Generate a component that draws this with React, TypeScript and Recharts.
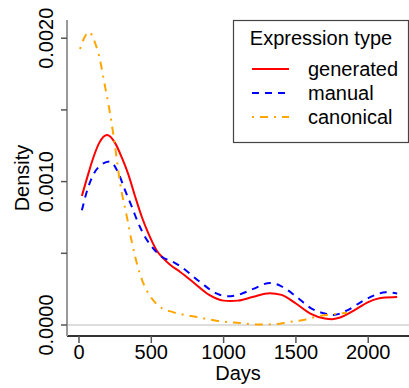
import React from 'react';
import { LineChart, Line, XAxis, YAxis, ReferenceLine } from 'recharts';

// values (days vs density)
const generatedDays = [20, 60, 100, 140, 194, 249, 295, 341, 387, 434, 479, 537, 583, 630, 700, 800, 900, 1000, 1044, 1100, 1200, 1320, 1400, 1500, 1600, 1700, 1750, 1800, 1900, 2000, 2100, 2200];
const generatedDensity = [0.0009, 0.00104, 0.00117, 0.00127, 0.001325, 0.00127, 0.00117, 0.00105, 0.0009, 0.000755, 0.00064, 0.00052, 0.000465, 0.00042, 0.00037, 0.00029, 0.00021, 0.00017, 0.000167, 0.00017, 0.000195, 0.000222, 0.00021, 0.00015, 0.00008, 0.000045, 0.00004, 0.00005, 0.0001, 0.00016, 0.00019, 0.000195];

const manualDays = [20, 60, 100, 134, 214, 272, 318, 365, 410, 456, 503, 572, 650, 700, 837, 950, 1023, 1100, 1200, 1321, 1400, 1500, 1600, 1700, 1757, 1850, 1950, 2050, 2120, 2200];
const manualDensity = [0.0008, 0.00095, 0.00105, 0.0011, 0.00114, 0.00106, 0.00094, 0.000825, 0.00071, 0.000616, 0.000546, 0.000476, 0.00044, 0.00041, 0.0003, 0.00022, 0.0002, 0.00021, 0.00025, 0.000293, 0.00027, 0.0002, 0.00012, 0.00008, 0.00007, 0.0001, 0.00016, 0.00021, 0.000228, 0.00022];

const canonicalDays = [7, 40, 69, 110, 145, 173, 214, 250, 284, 330, 367, 400, 436, 500, 560, 650, 816, 950, 1113, 1250, 1342, 1450, 1549, 1650, 1715, 1780, 1853];
const canonicalDensity = [0.001925, 0.00201, 0.002043, 0.00197, 0.00185, 0.0017, 0.00148, 0.00124, 0.00099, 0.00076, 0.00057, 0.00043, 0.000314, 0.00019, 0.000126, 0.00009, 0.000056, 0.00003, 0.000014, 0.000003, 0.000005, 0.00002, 0.000035, 0.00006, 0.00007, 0.000078, 0.000084];

const xTicks = [0, 500, 1000, 1500, 2000];
const yTicks = [0, 0.0005, 0.001, 0.0015, 0.002];
const yLabelled = [0, 0.001, 0.002];

const zip = (xs: number[], ys: number[]) => xs.map((x, i) => ({ x, y: ys[i] }));

const series = [
  { name: 'generated', data: zip(generatedDays, generatedDensity), color: '#ff0000', dash: undefined },
  { name: 'manual', data: zip(manualDays, manualDensity), color: '#0000ff', dash: '7 6' },
  { name: 'canonical', data: zip(canonicalDays, canonicalDensity), color: '#ffa500', dash: '2 6 8 6' },
];

const FONT = '"Liberation Sans", Arial, sans-serif';
const X_DOMAIN: [number, number] = [-83, 2282];
const Y_DOMAIN: [number, number] = [-0.0000767, 0.002127];

const XTick = (props: any) => (
  <text x={props.x} y={props.y + 16} textAnchor="middle" fontSize={20} fontFamily={FONT} fill="#000">
    {props.payload.value}
  </text>
);

const YTick = (props: any) => {
  const v = props.payload.value;
  if (!yLabelled.some((t) => Math.abs(t - v) < 1e-9)) return <g />;
  const x = props.x - 8;
  return (
    <text x={x} y={props.y} transform={`rotate(-90, ${x}, ${props.y})`} textAnchor="middle" fontSize={20} fontFamily={FONT} fill="#000">
      {v.toFixed(4)}
    </text>
  );
};

export default function App() {
  return (
    <div style={{ position: 'absolute', left: 0, top: 0, width: 409, height: 388, background: '#fff' }}>
      <LineChart width={409} height={388} margin={{ top: 20, right: 0, bottom: 0, left: 0 }}>
        <XAxis
          dataKey="x"
          type="number"
          domain={X_DOMAIN}
          ticks={xTicks}
          allowDataOverflow
          height={52}
          tickSize={7}
          tickMargin={0}
          tick={<XTick />}
          axisLine={{ stroke: '#333', strokeWidth: 2 }}
          tickLine={{ stroke: '#555', strokeWidth: 1.5 }}
        />
        <YAxis
          type="number"
          domain={Y_DOMAIN}
          ticks={yTicks}
          allowDataOverflow
          width={67}
          tickSize={6}
          tickMargin={0}
          tick={<YTick />}
          axisLine={{ stroke: '#999', strokeWidth: 2 }}
          tickLine={{ stroke: '#555', strokeWidth: 1.5 }}
        />
        <ReferenceLine y={0} stroke="#bbb" strokeWidth={1.2} />
        <ReferenceLine
          segment={[{ x: X_DOMAIN[0], y: 0 }, { x: X_DOMAIN[0], y: 0.002 }]}
          stroke="#333"
          strokeWidth={2}
          ifOverflow="visible"
        />
        {series.map((s) => (
          <Line
            key={s.name}
            data={s.data}
            dataKey="y"
            type="monotone"
            stroke={s.color}
            strokeWidth={2}
            strokeDasharray={s.dash}
            dot={false}
            activeDot={false}
            isAnimationActive={false}
          />
        ))}
      </LineChart>
      <svg width={409} height={388} style={{ position: 'absolute', left: 0, top: 0, pointerEvents: 'none' }} fontFamily={FONT}>
        <text x={29} y={178} transform="rotate(-90, 29, 178)" textAnchor="middle" fontSize={20} fill="#000">
          Density
        </text>
        <text x={238} y={380} textAnchor="middle" fontSize={20} fill="#000">
          Days
        </text>
        <rect x={233.5} y={20.5} width={175} height={122} fill="#fff" stroke="#444" strokeWidth={1.2} />
        <text x={321} y={45} textAnchor="middle" fontSize={20} fill="#000">
          Expression type
        </text>
        {series.map((s, i) => (
          <g key={s.name}>
            <line x1={252} x2={289} y1={69 + i * 24} y2={69 + i * 24} stroke={s.color} strokeWidth={2} strokeDasharray={s.dash} />
            <text x={308} y={76 + i * 24} fontSize={20} fill="#000">
              {s.name}
            </text>
          </g>
        ))}
      </svg>
    </div>
  );
}
